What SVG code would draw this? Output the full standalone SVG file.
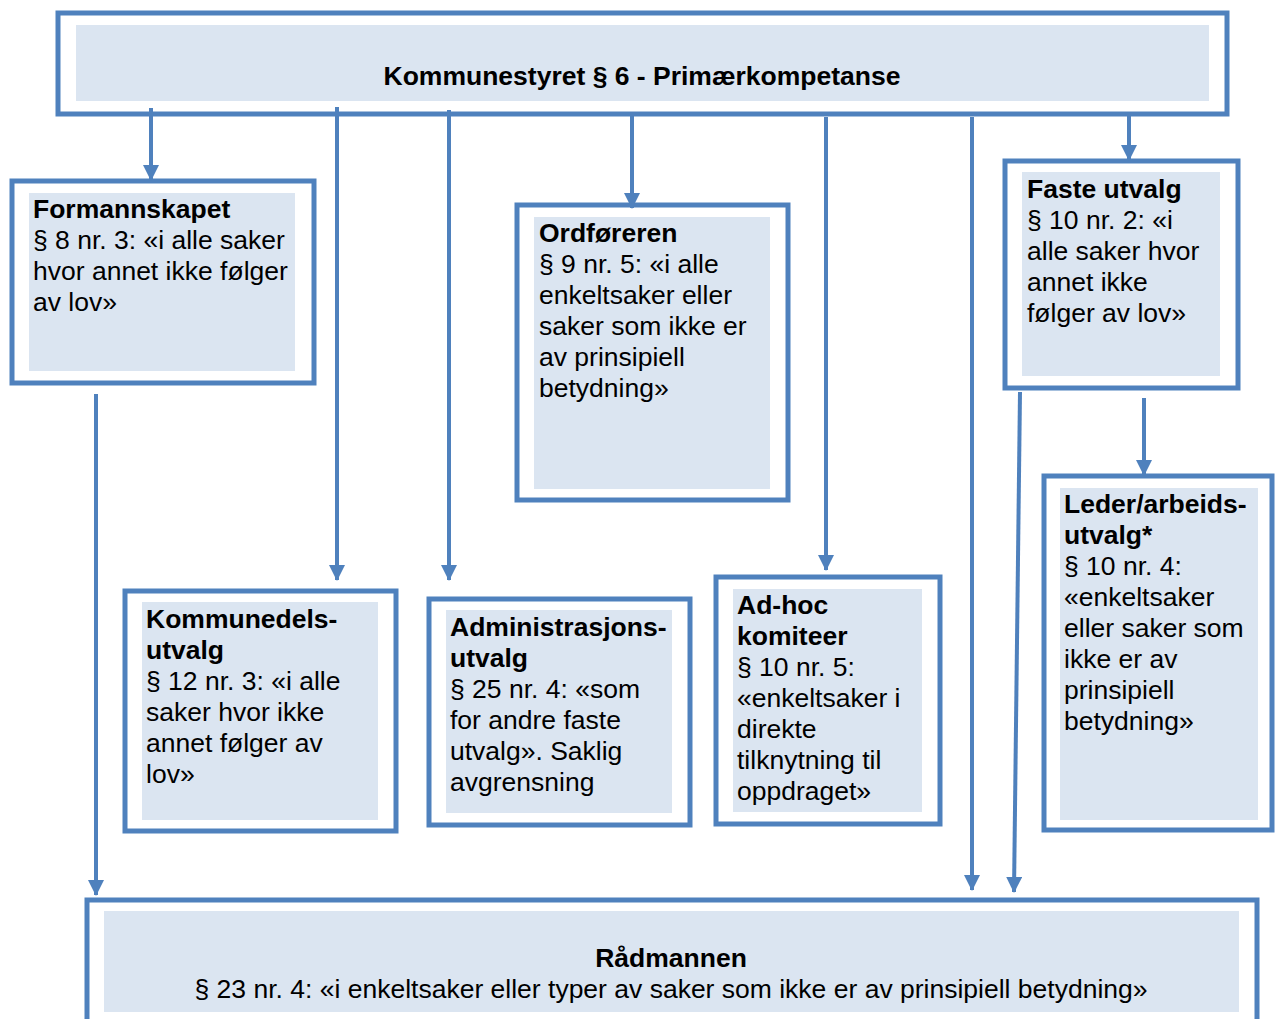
<svg xmlns="http://www.w3.org/2000/svg" width="1275" height="1019" viewBox="0 0 1275 1019">
<style>
.outer{fill:#fff;stroke:#4F81BD;stroke-width:5}
.inner{fill:#DBE5F1}
text{font-family:"Liberation Sans",Arial,sans-serif;font-size:26.5px;fill:#000}
.b{font-weight:bold}
.c{stroke:#4F81BD;stroke-width:4;fill:none;marker-end:url(#ah)}
</style>
<defs>
<marker id="ah" markerUnits="userSpaceOnUse" markerWidth="16" markerHeight="16" viewBox="0 0 16 16" refX="15" refY="8" orient="auto">
<path d="M0,0 L16,8 L0,16 Z" fill="#4F81BD"/>
</marker>
</defs>
<rect width="1275" height="1019" fill="#fff"/>

<g id="kommunestyret">
<rect class="outer" x="58" y="13" width="1169" height="101"/>
<rect class="inner" x="76" y="25" width="1133" height="76"/>
<text class="b" x="642" y="85" text-anchor="middle">Kommunestyret § 6 - Primærkompetanse</text>
</g>

<g id="formannskapet">
<rect class="outer" x="12" y="181" width="302" height="202"/>
<rect class="inner" x="29" y="193" width="266" height="178"/>
<text x="33" y="218"><tspan class="b">Formannskapet</tspan><tspan x="33" y="249">§ 8 nr. 3: «i alle saker</tspan><tspan x="33" y="280">hvor annet ikke følger</tspan><tspan x="33" y="311">av lov»</tspan></text>
</g>

<g id="ordforeren">
<rect class="outer" x="517" y="205" width="271" height="295"/>
<rect class="inner" x="534" y="217" width="236" height="272"/>
<text x="539" y="242"><tspan class="b">Ordføreren</tspan><tspan x="539" y="273">§ 9 nr. 5: «i alle</tspan><tspan x="539" y="304">enkeltsaker eller</tspan><tspan x="539" y="335">saker som ikke er</tspan><tspan x="539" y="366">av prinsipiell</tspan><tspan x="539" y="397">betydning»</tspan></text>
</g>

<g id="faste-utvalg">
<rect class="outer" x="1005" y="161" width="233" height="227"/>
<rect class="inner" x="1022" y="172" width="198" height="204"/>
<text x="1027" y="198"><tspan class="b">Faste utvalg</tspan><tspan x="1027" y="229">§ 10 nr. 2: «i</tspan><tspan x="1027" y="260">alle saker hvor</tspan><tspan x="1027" y="291">annet ikke</tspan><tspan x="1027" y="322">følger av lov»</tspan></text>
</g>

<g id="leder-arbeidsutvalg">
<rect class="outer" x="1044" y="476" width="228" height="354"/>
<rect class="inner" x="1060" y="488" width="198" height="332"/>
<text x="1064" y="513"><tspan class="b">Leder/arbeids-</tspan><tspan class="b" x="1064" y="544">utvalg*</tspan><tspan x="1064" y="575">§ 10 nr. 4:</tspan><tspan x="1064" y="606">«enkeltsaker</tspan><tspan x="1064" y="637">eller saker som</tspan><tspan x="1064" y="668">ikke er av</tspan><tspan x="1064" y="699">prinsipiell</tspan><tspan x="1064" y="730">betydning»</tspan></text>
</g>

<g id="kommunedelsutvalg">
<rect class="outer" x="125" y="591" width="271" height="240"/>
<rect class="inner" x="142" y="602" width="236" height="218"/>
<text x="146" y="628"><tspan class="b">Kommunedels-</tspan><tspan class="b" x="146" y="659">utvalg</tspan><tspan x="146" y="690">§ 12 nr. 3: «i alle</tspan><tspan x="146" y="721">saker hvor ikke</tspan><tspan x="146" y="752">annet følger av</tspan><tspan x="146" y="783">lov»</tspan></text>
</g>

<g id="administrasjonsutvalg">
<rect class="outer" x="429" y="599" width="261" height="226"/>
<rect class="inner" x="446" y="610" width="226" height="203"/>
<text x="450" y="636"><tspan class="b">Administrasjons-</tspan><tspan class="b" x="450" y="667">utvalg</tspan><tspan x="450" y="698">§ 25 nr. 4: «som</tspan><tspan x="450" y="729">for andre faste</tspan><tspan x="450" y="760">utvalg». Saklig</tspan><tspan x="450" y="791">avgrensning</tspan></text>
</g>

<g id="adhoc-komiteer">
<rect class="outer" x="716" y="577" width="224" height="247"/>
<rect class="inner" x="733" y="589" width="189" height="223"/>
<text x="737" y="614"><tspan class="b">Ad-hoc</tspan><tspan class="b" x="737" y="645">komiteer</tspan><tspan x="737" y="676">§ 10 nr. 5:</tspan><tspan x="737" y="707">«enkeltsaker i</tspan><tspan x="737" y="738">direkte</tspan><tspan x="737" y="769">tilknytning til</tspan><tspan x="737" y="800">oppdraget»</tspan></text>
</g>

<g id="radmannen">
<rect class="outer" x="87" y="900" width="1170" height="130"/>
<rect class="inner" x="104" y="911" width="1135" height="101"/>
<text x="671" y="967" text-anchor="middle"><tspan class="b">Rådmannen</tspan><tspan x="671" y="998">§ 23 nr. 4: «i enkeltsaker eller typer av saker som ikke er av prinsipiell betydning»</tspan></text>
</g>

<g id="connectors">
<line class="c" x1="151" y1="108" x2="151" y2="180"/>
<line class="c" x1="337" y1="107" x2="337" y2="580"/>
<line class="c" x1="449" y1="110" x2="449" y2="580"/>
<line class="c" x1="632" y1="116" x2="632" y2="208"/>
<line class="c" x1="826" y1="117" x2="826" y2="570"/>
<line class="c" x1="972" y1="117" x2="972" y2="890"/>
<line class="c" x1="1129" y1="112" x2="1129" y2="160"/>
<line class="c" x1="96" y1="394" x2="96" y2="895"/>
<line class="c" x1="1020" y1="392" x2="1014" y2="892"/>
<line class="c" x1="1144" y1="398" x2="1144" y2="475"/>
</g>
</svg>
